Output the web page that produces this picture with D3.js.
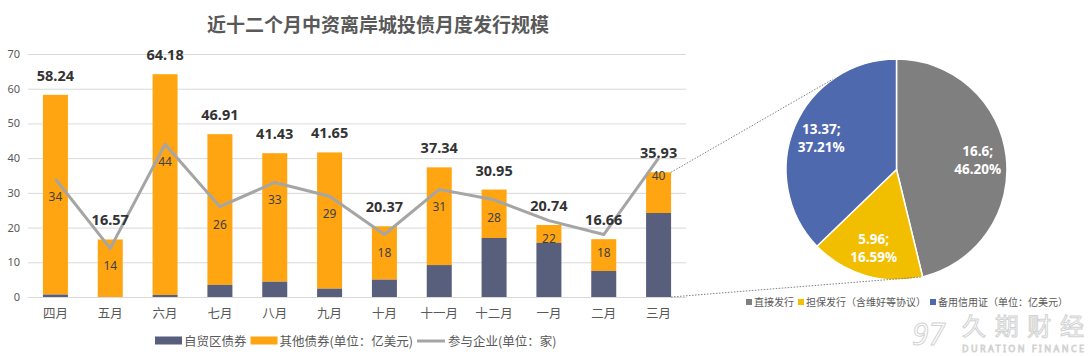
<!DOCTYPE html>
<html><head><meta charset="utf-8">
<script src="https://cdn.jsdelivr.net/npm/d3@7"></script>
<style>body{margin:0;background:#fff}svg{display:block}text{font-family:"Noto Sans","Noto Sans CJK SC",sans-serif}</style>
</head><body>
<svg id="c" width="1089" height="356"></svg>
<script>
const months = ["四月","五月","六月","七月","八月","九月","十月","十一月","十二月","一月","二月","三月"];
const ftzBonds = [0.7,0,0.6,3.5,4.4,2.4,5.0,9.2,17.0,15.6,7.5,24.2];
const totals = [58.24,16.57,64.18,46.91,41.43,41.65,20.37,37.34,30.95,20.74,16.66,35.93];
const companies = [34,14,44,26,33,29,18,31,28,22,18,40];
const yTicks = [0,10,20,30,40,50,60,70];
const pieLabels = ["直接发行","担保发行（含维好等协议）","备用信用证（单位：亿美元）"];
const pieValues = [16.6,5.96,13.37];
const piePct = ["46.20%","16.59%","37.21%"];
const seriesNames = ["自贸区债券","其他债券(单位：亿美元)","参与企业(单位：家)"];
const title = "近十二个月中资离岸城投债月度发行规模";

const svg = d3.select("#c");
const cDark = "#575F7D", cOrange = "#FFA511", cLine = "#A5A5A5";
const pieColors = ["#7F7F7F","#F2BE00","#4F69AF"];

const x = d3.scaleBand().domain(months).range([28,686]).paddingInner(0.544).paddingOuter(0.272);
const y = d3.scaleLinear().domain([0,70]).range([297,54]);

// title
svg.append("text").attr("x",378).attr("y",32).attr("text-anchor","middle")
  .attr("font-size",19).attr("font-weight","bold").attr("fill","#595959")
  .style("font-family","'Noto Sans CJK SC',sans-serif").text(title);

// grid
svg.append("g").selectAll("line").data(yTicks).join("line")
  .attr("x1",28).attr("x2",686).attr("y1",d=>y(d)+0.5).attr("y2",d=>y(d)+0.5)
  .attr("stroke","#D9D9D9").attr("stroke-width",1);
svg.append("g").selectAll("text").data(yTicks).join("text")
  .attr("x",20).attr("y",d=>y(d)+4).attr("text-anchor","end")
  .attr("font-size",11).attr("fill","#595959").text(d=>d);

// bars
const bw = x.bandwidth();
svg.append("g").selectAll("rect").data(months).join("rect")
  .attr("x",d=>x(d)).attr("width",bw)
  .attr("y",(d,i)=>y(totals[i])).attr("height",(d,i)=>y(ftzBonds[i])-y(totals[i]))
  .attr("fill",cOrange);
svg.append("g").selectAll("rect").data(months).join("rect")
  .attr("x",d=>x(d)).attr("width",bw)
  .attr("y",(d,i)=>y(ftzBonds[i])).attr("height",(d,i)=>y(0)-y(ftzBonds[i]))
  .attr("fill",cDark);

// x labels
svg.append("g").selectAll("text").data(months).join("text")
  .attr("x",d=>x(d)+bw/2).attr("y",318).attr("text-anchor","middle")
  .attr("font-size",12.5).attr("fill","#595959").style("font-family","'Noto Sans CJK SC',sans-serif").text(d=>d);

// line
const line = d3.line().x((d,i)=>x(months[i])+bw/2).y(d=>y(d));
svg.append("path").datum(companies).attr("d",line).attr("fill","none")
  .attr("stroke",cLine).attr("stroke-width",3).attr("stroke-linejoin","round");
svg.append("g").selectAll("text").data(companies).join("text")
  .attr("x",(d,i)=>x(months[i])+bw/2).attr("y",d=>y(d)+22).attr("text-anchor","middle")
  .attr("font-size",12).attr("fill","#404040").text(d=>d);

// total labels
svg.append("g").selectAll("text").data(totals).join("text")
  .attr("x",(d,i)=>x(months[i])+bw/2).attr("y",d=>y(d)-14).attr("text-anchor","middle")
  .attr("font-size",14.5).attr("font-weight","bold").attr("fill","#333").text(d=>d.toFixed(2));

// legend main
const lg = svg.append("g");
let lx = 155; const ly = 341;
function swatchRect(col){ lg.append("rect").attr("x",lx).attr("y",ly-4.5).attr("width",27).attr("height",8).attr("fill",col); lx += 29; }
function swatchLine(col){ lg.append("line").attr("x1",lx).attr("x2",lx+28).attr("y1",ly).attr("y2",ly).attr("stroke",col).attr("stroke-width",3); lx += 31; }
function ltext(t){ const tt = lg.append("text").attr("x",lx).attr("y",ly+4.5).attr("font-size",12.5).attr("fill","#595959")
  .style("font-family","'Noto Sans CJK SC',sans-serif").text(t); lx += tt.node().getComputedTextLength()+4; }
swatchRect(cDark); ltext(seriesNames[0]);
swatchRect(cOrange); ltext(seriesNames[1]);
swatchLine(cLine); ltext(seriesNames[2]);

// pie
const cx = 896.5, cy = 169.5, R = 110.5;
const pie = d3.pie().sort(null).value(d=>d)(pieValues);
const arc = d3.arc().innerRadius(0).outerRadius(R);
const pg = svg.append("g").attr("transform",`translate(${cx},${cy})`);
pg.selectAll("path").data(pie).join("path").attr("d",arc)
  .attr("fill",(d,i)=>pieColors[i]).attr("stroke","#fff").attr("stroke-width",1.5);
const labArc = d3.arc().innerRadius(R*0.74).outerRadius(R*0.74);
const lp = pg.selectAll("g.lab").data(pie).join("g").attr("class","lab")
  .attr("transform",(d,i)=>{const c=labArc.centroid(d); return `translate(${c[0]},${c[1]})`;});
lp.append("text").attr("text-anchor","middle").attr("y",-4).attr("font-size",13.5).attr("font-weight","bold")
  .attr("fill","#fff").text((d,i)=>pieValues[i]+";");
lp.append("text").attr("text-anchor","middle").attr("y",14).attr("font-size",13.5).attr("font-weight","bold")
  .attr("fill","#fff").text((d,i)=>piePct[i]);

// connectors
const last = months[months.length-1];
const bx = x(last)+bw;
function pt(a){ return [cx+R*Math.sin(a), cy-R*Math.cos(a)]; }
const pTop = pt(-35.2*Math.PI/180), pBot = pt(pie[0].endAngle);
svg.append("line").attr("x1",bx).attr("y1",y(totals[11])).attr("x2",pTop[0]).attr("y2",pTop[1])
  .attr("stroke","#7F7F7F").attr("stroke-width",1).attr("stroke-dasharray","1.5,1.5");
svg.append("line").attr("x1",bx).attr("y1",y(0)).attr("x2",pBot[0]).attr("y2",pBot[1])
  .attr("stroke","#7F7F7F").attr("stroke-width",1).attr("stroke-dasharray","1.5,1.5");

// pie legend
const pl = svg.append("g");
let px = 746; const py = 302;
pieLabels.forEach((t,i)=>{
  pl.append("rect").attr("x",px).attr("y",py-3).attr("width",6).attr("height",6).attr("fill",pieColors[i]);
  px += 8;
  const tt = pl.append("text").attr("x",px).attr("y",py+3.5).attr("font-size",10).attr("fill","#595959")
    .style("font-family","'Noto Sans CJK SC',sans-serif").text(t);
  px += tt.node().getComputedTextLength()+4;
});

// watermark
const wm = svg.append("g");
wm.append("text").attr("x",912).attr("y",345).attr("font-size",30).attr("font-style","italic")
  .attr("fill","#fff").attr("stroke","#d2d2d2").attr("stroke-width",1).text("97");
wm.append("text").attr("x",962).attr("y",335).attr("font-size",24).attr("textLength",122)
  .attr("fill","#fff").attr("stroke","#d2d2d2").attr("stroke-width",1)
  .style("font-family","'Noto Sans CJK SC',sans-serif").text("久期财经");
wm.append("text").attr("x",962).attr("y",352).attr("font-size",9).attr("textLength",122)
  .attr("fill","#fff").attr("stroke","#d2d2d2").attr("stroke-width",0.8).text("DURATION FINANCE");
</script>
</body></html>
